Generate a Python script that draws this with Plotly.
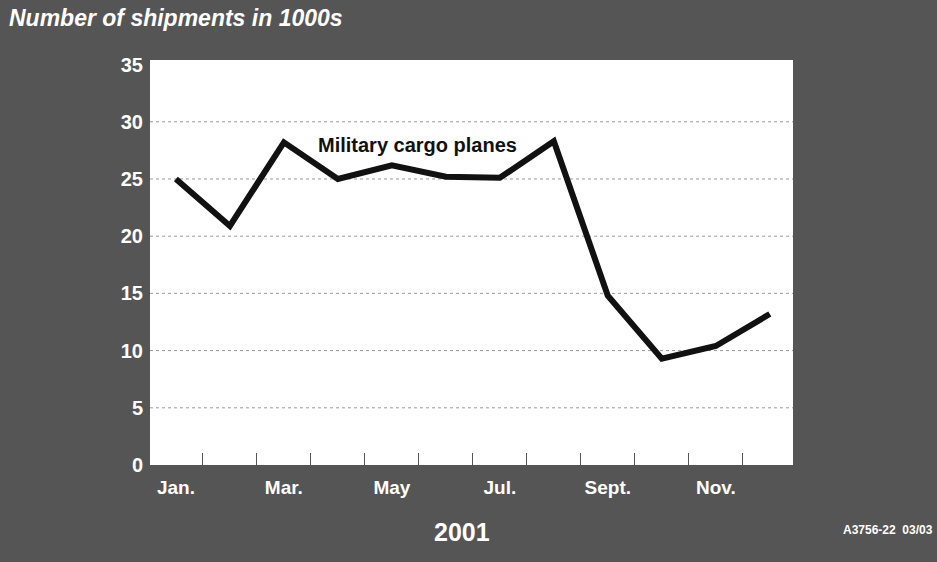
import plotly.graph_objects as go

months = ["Jan.", "Feb.", "Mar.", "Apr.", "May", "Jun.", "Jul.", "Aug.", "Sept.", "Oct.", "Nov.", "Dec."]
shipments = [25.0, 20.9, 28.2, 25.0, 26.2, 25.2, 25.1, 28.3, 14.8, 9.3, 10.4, 13.2]
tick_labels = ["Jan.", "Mar.", "May", "Jul.", "Sept.", "Nov."]
y_ticks = [0, 5, 10, 15, 20, 25, 30, 35]
grid_levels = [5, 10, 15, 20, 25, 30]

x_idx = list(range(len(months)))
font = "Arial, Liberation Sans, sans-serif"

fig = go.Figure()

# dotted grid lines (none at the top edge, as in the original)
for g in grid_levels:
    fig.add_hline(y=g, line=dict(color="#9a9a9a", width=1, dash="dot"), layer="below")

fig.add_trace(
    go.Scatter(
        x=x_idx,
        y=shipments,
        mode="lines",
        line=dict(color="#111111", width=6),
        name="Military cargo planes",
        hovertemplate="%{text}: %{y:.1f}k<extra></extra>",
        text=months,
    )
)

fig.add_annotation(
    x=4.48, y=28.0, text="<b>Military cargo planes</b>", showarrow=False,
    font=dict(family=font, size=20, color="#111111"),
)
fig.add_annotation(
    xref="paper", yref="paper", x=-0.222, y=1.104, xanchor="left", yanchor="middle",
    text="<b><i>Number of shipments in 1000s</i></b>", showarrow=False,
    font=dict(family=font, size=23, color="white"),
)
fig.add_annotation(
    xref="paper", yref="paper", x=0.485, y=-0.165, xanchor="center", yanchor="middle",
    text="<b>2001</b>", showarrow=False,
    font=dict(family=font, size=25, color="white"),
)
fig.add_annotation(
    xref="paper", yref="paper", x=1.221, y=-0.16, xanchor="right", yanchor="middle",
    text="<b>A3756-22  03/03</b>", showarrow=False,
    font=dict(family=font, size=12, color="white"),
)

fig.update_layout(
    width=937,
    height=562,
    margin=dict(l=150, r=144, t=60, b=97),
    paper_bgcolor="#555555",
    plot_bgcolor="white",
    showlegend=False,
    xaxis=dict(
        range=[-0.48, 11.43],
        tickmode="array",
        tickvals=[0, 2, 4, 6, 8, 10],
        ticktext=[f"<b>{t}</b>" for t in tick_labels],
        tickfont=dict(family=font, size=19, color="white"),
        showgrid=False,
        zeroline=False,
        ticks="",
        ticklabelstandoff=9,
        minor=dict(ticks="inside", tick0=0.5, dtick=1, ticklen=12, tickcolor="#555555", tickwidth=1),
    ),
    yaxis=dict(
        range=[0, 35.4],
        tickmode="array",
        tickvals=y_ticks,
        ticktext=[f"<b>{v}</b>" for v in y_ticks],
        tickfont=dict(family=font, size=20, color="white"),
        showgrid=False,
        zeroline=False,
        ticks="",
        ticklabelstandoff=6,
    ),
)

fig.write_html(
    "out.html",
    config={"displayModeBar": False},
    post_script="document.body.style.margin='0';",
)
